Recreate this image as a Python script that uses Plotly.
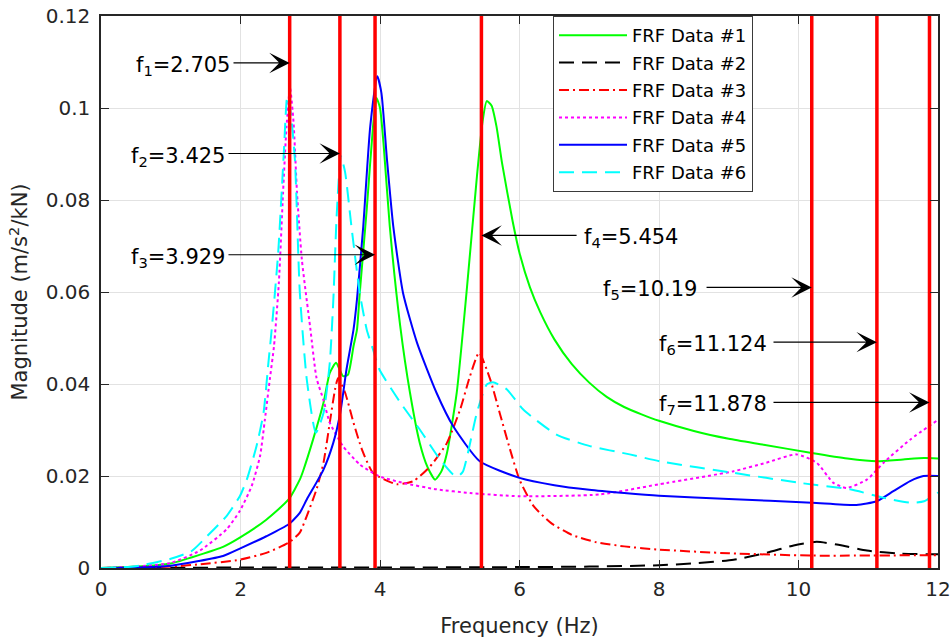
import plotly.graph_objects as go

# ---------------- data ----------------
f_s1 = [0, 0.5, 1.0, 1.4, 1.75, 1.99, 2.37, 2.69, 2.85, 2.9, 3.04, 3.19, 3.28, 3.37, 3.47, 3.54, 3.62, 3.67,
        3.71, 3.81, 3.90, 3.95, 4.0, 4.05, 4.14, 4.29, 4.43, 4.57, 4.68, 4.79, 4.88, 4.96, 5.1, 5.24, 5.39,
        5.47, 5.53, 5.6, 5.67, 5.75, 5.9, 6.0, 6.15, 6.3, 6.5, 6.75, 7.0, 7.25, 7.5, 7.75, 8.0, 8.5, 9.0,
        9.5, 10.19, 10.7, 11.12, 11.5, 11.8, 12]
m_s1 = [0, 0.0003, 0.001, 0.0028, 0.0046, 0.0066, 0.0105, 0.0149, 0.0192, 0.0212, 0.0279, 0.0359, 0.0424,
        0.0446, 0.0417, 0.042, 0.0482, 0.0518, 0.0598, 0.078, 0.096, 0.1022, 0.1, 0.0924, 0.0743, 0.0526,
        0.0381, 0.0272, 0.022, 0.0192, 0.021, 0.025, 0.0381, 0.0598, 0.0852, 0.097, 0.1015, 0.1005, 0.096,
        0.088, 0.0755, 0.0685, 0.061, 0.0555, 0.0497, 0.0443, 0.0403, 0.0372, 0.035, 0.0334, 0.032, 0.0298,
        0.0281, 0.0268, 0.025, 0.0238, 0.0232, 0.0236, 0.0239, 0.0238]

f_s2 = [0, 2, 4, 6, 7, 8, 8.5, 9.07, 9.54, 9.93, 10.26, 10.55, 10.98, 11.46, 12]
m_s2 = [0, 0.0001, 0.0001, 0.0002, 0.0003, 0.0006, 0.001, 0.0018, 0.0033, 0.0049, 0.0057, 0.0051, 0.0038,
        0.0031, 0.003]

f_s3 = [0, 1.0, 1.42, 1.99, 2.37, 2.69, 2.85, 2.95, 3.09, 3.19, 3.28, 3.355, 3.40, 3.50, 3.62, 3.74, 3.90,
        4.24, 4.48, 4.72, 4.96, 5.15, 5.29, 5.42, 5.58, 5.72, 5.86, 6.0, 6.2, 6.45, 6.75, 7.1, 7.5, 8.0, 9.0,
        10.19, 12]
m_s3 = [0, 0.0003, 0.0008, 0.0018, 0.0033, 0.0055, 0.0077, 0.0113, 0.0171, 0.0229, 0.0316, 0.0388, 0.0413,
        0.0381, 0.0316, 0.0258, 0.0207, 0.0182, 0.0189, 0.0221, 0.0272, 0.0345, 0.0417, 0.0468, 0.041,
        0.0335, 0.026, 0.0192, 0.0135, 0.0098, 0.0072, 0.0056, 0.0047, 0.004, 0.0032, 0.0027, 0.0028]

f_s4 = [0, 0.5, 1.0, 1.42, 1.80, 1.99, 2.16, 2.28, 2.35, 2.42, 2.48, 2.55, 2.61, 2.66, 2.71, 2.76, 2.81, 2.88,
        3.0, 3.09, 3.19, 3.28, 3.47, 3.71, 3.98, 4.33, 4.81, 5.29, 6.0, 7.15, 8.11, 9.06, 9.54, 9.97, 10.26,
        10.5, 10.69, 10.98, 11.22, 11.6, 12]
m_s4 = [0, 0.0003, 0.0011, 0.0038, 0.0084, 0.0124, 0.0178, 0.0243, 0.0323, 0.041, 0.0482, 0.062, 0.0816,
        0.096, 0.1044, 0.097, 0.0816, 0.067, 0.0522, 0.0413, 0.0365, 0.0316, 0.0265, 0.0225, 0.02, 0.0185,
        0.0171, 0.0163, 0.0156, 0.016, 0.0185, 0.021, 0.0229, 0.0247, 0.0229, 0.0185, 0.0174, 0.0192,
        0.0229, 0.0279, 0.0322]

f_s5 = [0, 0.5, 1.0, 1.4, 1.75, 1.99, 2.37, 2.69, 2.85, 2.95, 3.19, 3.33, 3.43, 3.52, 3.62, 3.67, 3.76, 3.86,
        3.96, 4.02, 4.10, 4.19, 4.33, 4.53, 4.81, 5.05, 5.43, 6.0, 6.5, 7.0, 7.5, 8.0, 9.0, 10.19, 10.83,
        11.12, 11.36, 11.6, 11.79, 12]
m_s5 = [0, 0.0001, 0.0005, 0.0015, 0.0026, 0.0042, 0.0069, 0.0095, 0.012, 0.0149, 0.0214, 0.0272, 0.0337,
        0.0432, 0.0518, 0.0584, 0.0743, 0.096, 0.1069, 0.1033, 0.0888, 0.0743, 0.0598, 0.049, 0.0381,
        0.0308, 0.0232, 0.0196, 0.018, 0.017, 0.0163, 0.0157, 0.015, 0.0142, 0.0137, 0.0145, 0.0167,
        0.0189, 0.02, 0.02]

f_s6 = [0, 0.5, 1.0, 1.3, 1.52, 1.80, 1.99, 2.09, 2.23, 2.33, 2.40, 2.447, 2.54, 2.62, 2.67, 2.72, 2.78,
        2.85, 2.95, 3.08, 3.19, 3.28, 3.33, 3.38, 3.44, 3.5, 3.59, 3.71, 3.81, 3.90, 3.99, 4.29, 4.57, 4.86,
        5.05, 5.12, 5.19, 5.39, 5.53, 5.62, 5.82, 6.05, 6.53, 7.01, 7.58, 8.01, 9.06, 10.02, 10.74, 11.21,
        11.6, 11.8, 12]
m_s6 = [0, 0.0004, 0.002, 0.0037, 0.0069, 0.0113, 0.0156, 0.0192, 0.0265, 0.0337, 0.0446, 0.0518, 0.0685,
        0.09, 0.1025, 0.099, 0.0888, 0.06, 0.041, 0.0294, 0.0337, 0.0446, 0.058, 0.077, 0.0895, 0.086,
        0.0743, 0.0598, 0.0518, 0.0475, 0.0432, 0.036, 0.0301, 0.0236, 0.0203, 0.02, 0.021, 0.0338, 0.0399,
        0.0404, 0.0388, 0.0345, 0.029, 0.0265, 0.0247, 0.0232, 0.0207, 0.0185, 0.0171, 0.0153, 0.0142,
        0.0145, 0.0164]

series_names = ["FRF Data #1", "FRF Data #2", "FRF Data #3", "FRF Data #4", "FRF Data #5", "FRF Data #6"]

mode_freqs = [2.705, 3.425, 3.929, 5.454, 10.19, 11.124, 11.878]
mode_labels = ["2.705", "3.425", "3.929", "5.454", "10.19", "11.124", "11.878"]

x_ticks = [0, 2, 4, 6, 8, 10, 12]
y_ticks = [0, 0.02, 0.04, 0.06, 0.08, 0.1, 0.12]
y_ticktext = ["0", "0.02", "0.04", "0.06", "0.08", "0.1", "0.12"]
x_range = [0, 12]
y_range = [0, 0.12]

# ---------------- styles / positions ----------------
styles = [
    dict(color="#00ff00", dash="solid"),
    dict(color="#000000", dash="15px,8px"),
    dict(color="#ff0000", dash="10px,4px,2px,4px"),
    dict(color="#ff00ff", dash="dot"),
    dict(color="#0000ff", dash="solid"),
    dict(color="#00ffff", dash="15px,8px"),
]
# arrow y-position, arrow tail x, text side, text shift
arrow_cfg = [
    (0.1098, 1.878, "left", 0),
    (0.0901, 1.806, "left", 0),
    (0.0681, 1.806, "left", 0),
    (0.0723, 6.84, "right", 4),
    (0.0610, 8.66, "left", -6),
    (0.0491, 9.62, "left", -3),
    (0.0360, 9.62, "left", -3),
]

FONT = "DejaVu Sans"
AXC = "#262626"

fig = go.Figure()
fs = [f_s1, f_s2, f_s3, f_s4, f_s5, f_s6]
ms = [m_s1, m_s2, m_s3, m_s4, m_s5, m_s6]
for i, (fx, my, nm, st) in enumerate(zip(fs, ms, series_names, styles)):
    fig.add_trace(go.Scatter(
        x=fx, y=my, name=nm, mode="lines",
        line=dict(color=st["color"], dash=st["dash"], width=2, shape="spline", smoothing=0.55),
        legendgroup=f"g{i}",
    ))

for f in mode_freqs:
    fig.add_trace(go.Scatter(
        x=[f, f], y=y_range, mode="lines", showlegend=False,
        line=dict(color="#ff0000", width=3.5), hoverinfo="skip",
    ))

annotations = []
for k, (f, lab, (ay, ax, side, shift)) in enumerate(zip(mode_freqs, mode_labels, arrow_cfg)):
    annotations.append(dict(
        x=f, y=ay, ax=ax, ay=ay, xref="x", yref="y", axref="x", ayref="y",
        text="", showarrow=True, arrowhead=3, arrowsize=3.1, arrowwidth=1.1,
        arrowcolor="#000000", standoff=0, startstandoff=0,
    ))
    annotations.append(dict(
        x=ax, y=ay, xref="x", yref="y", showarrow=False,
        text=f"f<sub>{k + 1}</sub>=" + lab,
        xanchor="right" if side == "left" else "left",
        yanchor="middle", xshift=shift, yshift=-3,
        font=dict(family=FONT, size=21, color="#000000"),
    ))

fig.update_layout(
    width=952, height=640,
    margin=dict(l=101, r=14, t=16, b=72, autoexpand=False),
    paper_bgcolor="white", plot_bgcolor="white",
    font=dict(family=FONT, size=20, color=AXC),
    showlegend=True,
    legend=dict(
        x=(553 - 101) / 837, y=1, xanchor="left", yanchor="top",
        bgcolor="white", bordercolor="#3a3a3a", borderwidth=1,
        font=dict(family=FONT, size=18, color="#000000"),
        itemwidth=68, tracegroupgap=1, traceorder="grouped",
    ),
    annotations=annotations,
)
fig.update_xaxes(
    range=x_range, tickvals=x_ticks, ticktext=[str(v) for v in x_ticks],
    showline=True, mirror="ticks", linecolor=AXC, linewidth=1.5,
    ticks="inside", ticklen=8, tickwidth=1.3, tickcolor=AXC,
    showgrid=True, gridcolor="#e2e2e2", gridwidth=1, zeroline=False, automargin=False,
    tickfont=dict(family=FONT, size=20, color=AXC), ticklabelstandoff=2, ticklabeloverflow="allow",
    title=dict(text="Frequency (Hz)", font=dict(family=FONT, size=21, color=AXC), standoff=19),
)
fig.update_yaxes(
    range=y_range, tickvals=y_ticks, ticktext=y_ticktext,
    showline=True, mirror="ticks", linecolor=AXC, linewidth=1.5,
    ticks="inside", ticklen=8, tickwidth=1.3, tickcolor=AXC,
    showgrid=True, gridcolor="#e2e2e2", gridwidth=1, zeroline=False, automargin=False,
    tickfont=dict(family=FONT, size=20, color=AXC), ticklabelstandoff=5, ticklabeloverflow="allow",
    title=dict(text="Magnitude (m/s<sup>2</sup>/kN)", font=dict(family=FONT, size=21, color=AXC), standoff=12),
)

# remove the browser's default 8 px page margin so the figure sits at the window origin
fig.write_html(
    "out.html",
    config={"displayModeBar": False},
    post_script="document.body.style.margin='0';document.body.style.overflow='hidden';",
)
